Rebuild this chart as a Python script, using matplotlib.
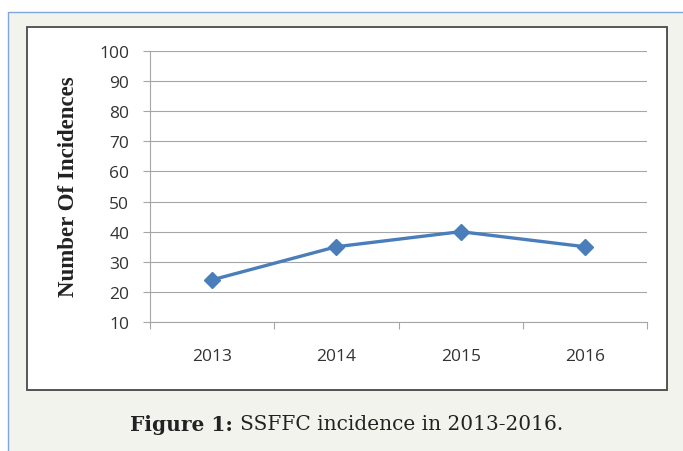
import matplotlib
matplotlib.use("Agg")
import matplotlib.pyplot as plt
from matplotlib.patches import Rectangle

# ----------------------------
# DATA
# ----------------------------
years = ["2013", "2014", "2015", "2016"]
incidences = [24, 35, 40, 35]
y_ticks = [10, 20, 30, 40, 50, 60, 70, 80, 90, 100]

W, H = 683, 452

fig = plt.figure(figsize=(W / 100, H / 100), dpi=100)
fig.patch.set_facecolor("white")


def px_box(x0, y0, x1, y1):
    # pixel box (top-down) -> figure fraction
    return x0 / W, 1 - y1 / H, (x1 - x0) / W, (y1 - y0) / H


# page background + blue frame
x, y, w, h = px_box(8, 13, 690, 460)
fig.patches.append(Rectangle((x, y), w, h, transform=fig.transFigure,
                             facecolor="#f3f3ee", edgecolor="#7ea6d8",
                             linewidth=1.0, zorder=0))

# chart box
x, y, w, h = px_box(27, 28, 667, 391)
fig.patches.append(Rectangle((x + 0.002, y - 0.003), w, h, transform=fig.transFigure,
                             facecolor="#b8b8b8", edgecolor="none", zorder=1))
fig.patches.append(Rectangle((x, y), w, h, transform=fig.transFigure,
                             facecolor="white", edgecolor="#4a4a4a",
                             linewidth=1.3, zorder=2))

# ----------------------------
# PLOT AREA
# ----------------------------
ax = fig.add_axes(px_box(150, 52, 647, 323))
ax.set_zorder(3)
ax.patch.set_alpha(0)

xs = list(range(len(years)))
ax.plot(xs, incidences, color="#4a7ebb", linewidth=2.4,
        marker="D", markersize=8.5, markeredgecolor="#4a7ebb", zorder=5)

ax.set_ylim(10, 100)
ax.set_xlim(-0.5, len(years) - 0.5)
ax.set_yticks(y_ticks)
ax.yaxis.grid(True, color="#a6a6a6", linewidth=0.8)

ax.set_xticks(xs)
ax.set_xticklabels(years)
ax.set_xticks([i - 0.5 for i in range(len(years) + 1)], minor=True)

for s in ["top", "right"]:
    ax.spines[s].set_visible(False)
for s in ["left", "bottom"]:
    ax.spines[s].set_color("#a6a6a6")
    ax.spines[s].set_linewidth(0.8)

ax.tick_params(axis="y", length=5, color="#a6a6a6", width=0.8, pad=10,
               labelsize=12.5, labelcolor="#333333")
ax.tick_params(axis="x", which="major", length=0, pad=19,
               labelsize=12.5, labelcolor="#333333")
ax.tick_params(axis="x", which="minor", length=5, color="#a6a6a6", width=0.8)
for lab in ax.get_xticklabels() + ax.get_yticklabels():
    lab.set_fontfamily("Open Sans")

# y label
fig.text(68 / W, 1 - 187 / H, "Number Of Incidences", rotation=90,
         ha="center", va="center", fontsize=16.5, fontweight="bold",
         family="Liberation Serif", color="#222222", zorder=4)

# ----------------------------
# CAPTION
# ----------------------------
fig.canvas.draw()
renderer = fig.canvas.get_renderer()
t1 = fig.text(130 / W, 1 - 425 / H, "Figure 1:", fontsize=14.5,
              fontweight="bold", family="DejaVu Serif", color="#222222",
              va="center", ha="left")
bb = t1.get_window_extent(renderer)
fig.text((bb.x1 + 7) / W, 1 - 425 / H, "SSFFC incidence in 2013-2016.",
         fontsize=14.5, family="DejaVu Serif", color="#222222",
         va="center", ha="left")

fig.savefig("out.png", dpi=100)
plt.close()
